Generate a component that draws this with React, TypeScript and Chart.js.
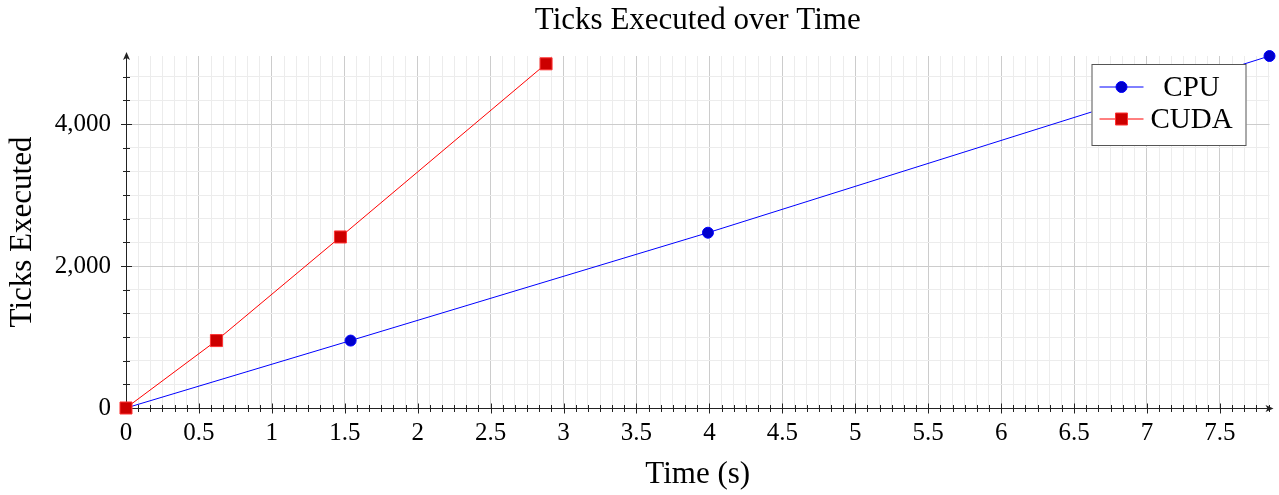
import React, { useEffect, useRef } from "react";
import { Chart, registerables } from "chart.js";

Chart.register(...registerables);

const chartTitle = "Ticks Executed over Time";
const xAxisTitle = "Time (s)";
const yAxisTitle = "Ticks Executed";
const seriesNames = ["CPU", "CUDA"];
const cpuTime = [0, 1.54, 3.99, 7.84];
const cpuTicks = [0, 950, 2470, 4960];
const cudaTime = [0, 0.62, 1.47, 2.88];
const cudaTicks = [0, 950, 2410, 4850];
const xMax = 7.84;
const yMax = 4960;
const xMajorStep = 0.5;
const yMajorStep = 2000;
const minorPerMajor = 6;

const FONT = "'Liberation Serif', 'DejaVu Serif', serif";
const MAJOR_GRID = "#cccccc";
const MINOR_GRID = "#ececec";

function buildTicks(max: number, majorStep: number) {
  const ticks: { value: number; major: boolean }[] = [];
  const step = majorStep / minorPerMajor;
  for (let i = 0; i * step <= max + 1e-9; i++) {
    ticks.push({ value: i * step, major: i % minorPerMajor === 0 });
  }
  return ticks;
}

function isMajor(v: number, majorStep: number) {
  const k = v / majorStep;
  return Math.abs(k - Math.round(k)) < 0.001;
}

const titlePlugin = {
  id: "axisTitle",
  afterDraw(chart: any) {
    const { ctx, chartArea } = chart;
    ctx.save();
    ctx.fillStyle = "#000";
    ctx.font = `31px ${FONT}`;
    ctx.textAlign = "center";
    ctx.textBaseline = "middle";
    ctx.fillText(chartTitle, (chartArea.left + chartArea.right) / 2, 20.6);
    ctx.restore();
  },
};

const axesPlugin = {
  id: "pgfAxes",
  beforeDatasetsDraw(chart: any) {
    const { ctx, chartArea } = chart;
    const xs = chart.scales.x;
    const ys = chart.scales.y;
    const y0 = Math.round(ys.getPixelForValue(0));
    const x0 = Math.round(xs.getPixelForValue(0));
    ctx.save();
    ctx.strokeStyle = "#222";
    ctx.fillStyle = "#222";
    ctx.lineWidth = 1;
    ctx.beginPath();
    ctx.moveTo(chartArea.left, y0 + 0.5);
    ctx.lineTo(chartArea.right + 2, y0 + 0.5);
    ctx.stroke();
    ctx.beginPath();
    ctx.moveTo(chartArea.right + 4, y0 + 0.5);
    ctx.lineTo(chartArea.right - 4, y0 - 3);
    ctx.lineTo(chartArea.right - 2, y0 + 0.5);
    ctx.lineTo(chartArea.right - 4, y0 + 4);
    ctx.closePath();
    ctx.fill();
    ctx.beginPath();
    ctx.moveTo(x0 + 0.5, chartArea.bottom);
    ctx.lineTo(x0 + 0.5, chartArea.top - 2);
    ctx.stroke();
    ctx.beginPath();
    ctx.moveTo(x0 + 0.5, chartArea.top - 4);
    ctx.lineTo(x0 - 3, chartArea.top + 4);
    ctx.lineTo(x0 + 0.5, chartArea.top + 2);
    ctx.lineTo(x0 + 4, chartArea.top + 4);
    ctx.closePath();
    ctx.fill();
    ctx.beginPath();
    xs.ticks.forEach((t: any) => {
      const len = t.major ? 5 : 3.5;
      const px = Math.round(xs.getPixelForValue(t.value)) + 0.5;
      ctx.moveTo(px, y0 + 0.5 - len);
      ctx.lineTo(px, y0 + 0.5 + len);
    });
    ys.ticks.forEach((t: any) => {
      const len = t.major ? 5.5 : 3.5;
      const py = Math.round(ys.getPixelForValue(t.value)) + 0.5;
      ctx.moveTo(x0 + 0.5 - len, py);
      ctx.lineTo(x0 + 0.5 + len, py);
    });
    ctx.stroke();
    ctx.restore();
  },
};

const legendPlugin = {
  id: "boxLegend",
  afterDraw(chart: any) {
    const { ctx, chartArea } = chart;
    const right = chartArea.right - 23;
    const left = right - 155;
    const top = chartArea.top + 8;
    const h = 82;
    ctx.save();
    ctx.fillStyle = "#ffffff";
    ctx.fillRect(left, top, right - left, h);
    ctx.strokeStyle = "#555";
    ctx.lineWidth = 1;
    ctx.strokeRect(left + 0.5, top + 0.5, right - left - 1, h - 1);
    chart.data.datasets.forEach((ds: any, i: number) => {
      const cy = top + 23 + i * 32;
      ctx.strokeStyle = ds.borderColor;
      ctx.lineWidth = 1;
      ctx.beginPath();
      ctx.moveTo(left + 8, cy);
      ctx.lineTo(left + 52, cy);
      ctx.stroke();
      const mx = left + 30;
      ctx.fillStyle = ds.pointBackgroundColor;
      ctx.strokeStyle = ds.pointBorderColor;
      ctx.beginPath();
      if (ds.pointStyle === "rect") {
        ctx.rect(mx - 6, cy - 6, 12, 12);
      } else {
        ctx.arc(mx, cy, 5.5, 0, Math.PI * 2);
      }
      ctx.fill();
      ctx.stroke();
      ctx.fillStyle = "#000";
      ctx.font = `29px ${FONT}`;
      ctx.textAlign = "center";
      ctx.textBaseline = "middle";
      ctx.fillText(ds.label, left + 100, cy + 1);
    });
    ctx.restore();
  },
};

export default function App() {
  const canvasRef = useRef<HTMLCanvasElement | null>(null);

  useEffect(() => {
    if (!canvasRef.current) return;
    const chart = new Chart(canvasRef.current, {
      type: "line",
      data: {
        datasets: [
          {
            label: seriesNames[0],
            data: cpuTime.map((x, i) => ({ x, y: cpuTicks[i] })),
            borderColor: "#0000ff",
            backgroundColor: "#0000cc",
            pointBackgroundColor: "#0000cc",
            pointBorderColor: "#0000ff",
            pointStyle: "circle",
            pointRadius: 5.5,
            pointBorderWidth: 1,
            borderWidth: 1,
            order: 1,
            clip: false as any,
          },
          {
            label: seriesNames[1],
            data: cudaTime.map((x, i) => ({ x, y: cudaTicks[i] })),
            borderColor: "#ff0000",
            backgroundColor: "#cc0000",
            pointBackgroundColor: "#cc0000",
            pointBorderColor: "#ff3333",
            pointStyle: "rect",
            pointRadius: 8.5,
            pointBorderWidth: 1,
            borderWidth: 1,
            order: 0,
            clip: false as any,
          },
        ],
      },
      options: {
        animation: false,
        responsive: false,
        layout: { padding: { left: 0, right: 9, top: 56, bottom: 0 } },
        plugins: {
          legend: { display: false },
          tooltip: { enabled: false },
          title: { display: false },
        },
        scales: {
          x: {
            type: "linear",
            min: 0,
            max: xMax,
            border: { display: false },
            afterBuildTicks: (s: any) => {
              s.ticks = buildTicks(xMax, xMajorStep);
            },
            grid: {
              drawTicks: false,
              lineWidth: 1,
              color: (c: any) => (c.tick && c.tick.major ? MAJOR_GRID : MINOR_GRID),
            },
            ticks: {
              autoSkip: false,
              maxRotation: 0,
              padding: 10,
              color: "#000",
              font: { family: FONT, size: 25 },
              callback: (v: any) => {
                const n = Number(v);
                if (!isMajor(n, xMajorStep)) return "";
                return String(Math.round(n * 2) / 2);
              },
            },
            title: {
              display: true,
              text: xAxisTitle,
              color: "#000",
              font: { family: FONT, size: 31 },
              padding: { top: 0, bottom: 2 },
            },
            afterFit: (s: any) => {
              s.height = 87;
            },
          },
          y: {
            type: "linear",
            min: 0,
            max: yMax,
            border: { display: false },
            afterBuildTicks: (s: any) => {
              s.ticks = buildTicks(yMax, yMajorStep);
            },
            grid: {
              drawTicks: false,
              lineWidth: 1,
              color: (c: any) => (c.tick && c.tick.major ? MAJOR_GRID : MINOR_GRID),
            },
            ticks: {
              autoSkip: false,
              padding: 15,
              color: "#000",
              font: { family: FONT, size: 25 },
              callback: (v: any) => {
                const n = Number(v);
                if (!isMajor(n, yMajorStep)) return "";
                return Math.round(n).toLocaleString("en-US");
              },
            },
            title: {
              display: true,
              text: yAxisTitle,
              color: "#000",
              font: { family: FONT, size: 31 },
              padding: { top: 4, bottom: 0 },
            },
            afterFit: (s: any) => {
              s.width = 126;
            },
          },
        },
      },
      plugins: [axesPlugin, legendPlugin, titlePlugin],
    });
    return () => chart.destroy();
  }, []);

  return (
    <div style={{ position: "fixed", left: 0, top: 0, width: 1279, height: 495, background: "#fff" }}>
      <canvas ref={canvasRef} width={1279} height={495} />
    </div>
  );
}
